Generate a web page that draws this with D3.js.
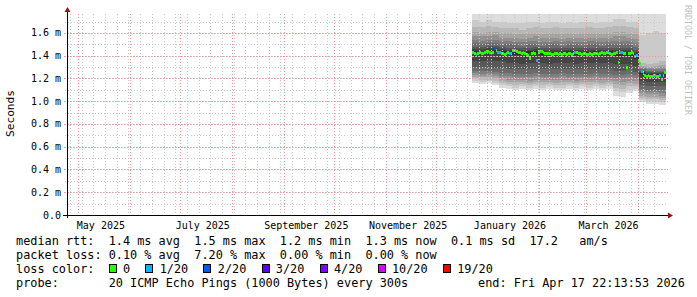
<!DOCTYPE html>
<html>
<head>
<meta charset="utf-8">
<script src="https://cdn.jsdelivr.net/npm/d3@7"></script>
<style>
  body { margin: 0; background: #fff; }
  svg { display: block; }
  text { font-family: "DejaVu Sans Mono", monospace; white-space: pre; }
</style>
</head>
<body>
<div id="chart"></div>
<script>
// time window of the graph
const timeStart = "2025-04-24T05:00:00Z";
const timeEnd = "2026-04-17T22:13:53Z";

// x labels (every second month)
const xLabelDates = ["2025-05-01", "2025-07-01", "2025-09-01", "2025-11-01", "2026-01-01", "2026-03-01"];
const xLabels = ["May 2025", "July 2025", "September 2025", "November 2025", "January 2026", "March 2026"];

// y ticks (ms)
const yTicks = [0, 0.2, 0.4, 0.6, 0.8, 1.0, 1.2, 1.4, 1.6];
const yTickLabels = ["0.0", "0.2 m", "0.4 m", "0.6 m", "0.8 m", "1.0 m", "1.2 m", "1.4 m", "1.6 m"];

// median rtt per day, starting 2025-12-23 (ms)
const dataStart = "2025-12-23T00:00:00Z";
const median = [
  1.43, 1.42, 1.41, 1.42, 1.43, 1.42, 1.42, 1.43, 1.44,
  1.44, 1.43, 1.42, 1.43, 1.46, 1.45, 1.43, 1.43, 1.42,
  1.42, 1.41, 1.42, 1.43, 1.42, 1.42, 1.45, 1.45, 1.44,
  1.43, 1.43, 1.42, 1.43, 1.42, 1.41, 1.40, 1.38, 1.42,
  1.43, 1.42, 1.36, 1.43, 1.44, 1.44, 1.43, 1.42, 1.42,
  1.42, 1.42, 1.41, 1.41, 1.42, 1.42, 1.41, 1.42, 1.41,
  1.42, 1.42, 1.41, 1.42, 1.42, 1.41, 1.42, 1.43, 1.43,
  1.42, 1.42, 1.41, 1.42, 1.42, 1.41, 1.41, 1.42, 1.41,
  1.42, 1.42, 1.42, 1.41, 1.42, 1.43, 1.42, 1.42, 1.43,
  1.43, 1.42, 1.41, 1.42, 1.42, 1.43, 1.345, 1.43, 1.43,
  1.42, 1.42, 1.295, 1.42, 1.42, 1.43, 1.42, 1.39, 1.40,
  1.36, 1.335, 1.26, 1.25, 1.23, 1.22, 1.23, 1.22, 1.22,
  1.23, 1.23, 1.22, 1.22, 1.23, 1.19, 1.23, 1.25
];
// lost pings (of 20) per day
const loss = [
  0, 0, 1, 0, 0, 0, 0, 0, 0,
  0, 0, 0, 0, 2, 0, 1, 1, 0,
  0, 0, 0, 0, 1, 0, 0, 0, 0,
  0, 0, 0, 0, 0, 0, 0, 0, 0,
  0, 0, 1, 0, 0, 0, 0, 0, 0,
  0, 0, 0, 0, 0, 0, 0, 0, 0,
  0, 0, 0, 0, 0, 0, 0, 1, 0,
  0, 0, 0, 0, 0, 0, 0, 0, 0,
  0, 0, 0, 0, 0, 0, 0, 0, 0,
  1, 0, 0, 0, 0, 0, 0, 1, 1,
  0, 0, 0, 0, 0, 0, 0, 1, 1,
  0, 0, 1, 1, 0, 0, 0, 0, 0,
  0, 1, 0, 0, 1, 0, 0, 0
];

// smoke: the 20 sorted pings (ms), one row per 4 days from 2025-12-23
const smokeDays = 4;
const smoke = [
  [1.16,1.18,1.20,1.21,1.23,1.25,1.27,1.30,1.35,1.42,1.44,1.46,1.48,1.51,1.54,1.57,1.61,1.65,1.71,1.80],
  [1.15,1.17,1.19,1.21,1.22,1.24,1.27,1.30,1.35,1.42,1.44,1.46,1.48,1.50,1.53,1.57,1.60,1.65,1.70,1.80],
  [1.16,1.18,1.19,1.21,1.23,1.25,1.27,1.30,1.36,1.43,1.45,1.47,1.49,1.51,1.54,1.57,1.61,1.66,1.71,1.80],
  [1.14,1.16,1.18,1.20,1.22,1.24,1.26,1.29,1.35,1.43,1.45,1.47,1.49,1.51,1.54,1.58,1.61,1.65,1.70,1.80],
  [1.12,1.14,1.16,1.18,1.20,1.22,1.25,1.29,1.35,1.42,1.44,1.46,1.48,1.50,1.53,1.56,1.60,1.64,1.70,1.80],
  [1.11,1.13,1.15,1.17,1.19,1.22,1.25,1.28,1.34,1.42,1.44,1.45,1.47,1.50,1.53,1.56,1.60,1.64,1.69,1.80],
  [1.10,1.12,1.14,1.17,1.19,1.21,1.24,1.28,1.34,1.41,1.43,1.45,1.47,1.50,1.52,1.56,1.59,1.64,1.69,1.80],
  [1.11,1.13,1.15,1.17,1.19,1.21,1.24,1.28,1.33,1.41,1.43,1.45,1.47,1.49,1.52,1.55,1.59,1.63,1.69,1.80],
  [1.10,1.12,1.14,1.16,1.18,1.21,1.24,1.28,1.34,1.42,1.44,1.45,1.47,1.50,1.53,1.56,1.60,1.64,1.70,1.80],
  [1.11,1.13,1.15,1.17,1.19,1.22,1.25,1.28,1.34,1.42,1.44,1.46,1.48,1.50,1.53,1.57,1.60,1.65,1.70,1.80],
  [1.10,1.12,1.14,1.17,1.19,1.21,1.24,1.28,1.34,1.41,1.43,1.45,1.47,1.49,1.52,1.56,1.59,1.64,1.69,1.80],
  [1.11,1.13,1.15,1.17,1.19,1.21,1.24,1.28,1.33,1.41,1.43,1.45,1.47,1.50,1.52,1.56,1.60,1.64,1.70,1.80],
  [1.10,1.12,1.14,1.16,1.19,1.21,1.24,1.28,1.34,1.41,1.43,1.45,1.47,1.50,1.53,1.56,1.60,1.65,1.70,1.80],
  [1.10,1.12,1.14,1.17,1.19,1.22,1.25,1.28,1.34,1.41,1.43,1.45,1.47,1.49,1.52,1.55,1.59,1.64,1.69,1.80],
  [1.11,1.13,1.15,1.17,1.19,1.21,1.24,1.28,1.34,1.42,1.44,1.45,1.47,1.50,1.53,1.56,1.60,1.64,1.70,1.80],
  [1.10,1.12,1.14,1.16,1.18,1.21,1.24,1.28,1.33,1.41,1.43,1.45,1.47,1.50,1.52,1.56,1.59,1.64,1.69,1.80],
  [1.11,1.13,1.15,1.17,1.19,1.21,1.24,1.28,1.34,1.41,1.43,1.45,1.47,1.49,1.52,1.56,1.60,1.64,1.70,1.80],
  [1.10,1.12,1.14,1.17,1.19,1.21,1.24,1.28,1.34,1.41,1.43,1.45,1.47,1.50,1.53,1.56,1.60,1.65,1.70,1.80],
  [1.11,1.13,1.15,1.17,1.19,1.22,1.25,1.28,1.34,1.42,1.44,1.45,1.47,1.50,1.53,1.56,1.60,1.64,1.69,1.80],
  [1.10,1.12,1.14,1.16,1.19,1.21,1.24,1.28,1.34,1.41,1.43,1.45,1.47,1.49,1.52,1.56,1.59,1.64,1.70,1.80],
  [1.11,1.13,1.15,1.17,1.19,1.21,1.24,1.28,1.34,1.42,1.44,1.45,1.47,1.50,1.53,1.56,1.60,1.65,1.70,1.80],
  [1.05,1.09,1.12,1.15,1.18,1.20,1.23,1.27,1.33,1.40,1.43,1.45,1.47,1.50,1.53,1.57,1.61,1.66,1.72,1.80],
  [1.04,1.08,1.11,1.14,1.17,1.20,1.23,1.27,1.33,1.40,1.43,1.45,1.47,1.50,1.53,1.57,1.61,1.66,1.72,1.80],
  [1.07,1.10,1.13,1.16,1.18,1.21,1.24,1.28,1.33,1.40,1.43,1.45,1.47,1.50,1.53,1.56,1.60,1.65,1.70,1.80],
  [1.09,1.11,1.13,1.15,1.18,1.20,1.23,1.26,1.31,1.37,1.40,1.43,1.45,1.48,1.51,1.55,1.59,1.64,1.70,1.80],
  [0.99,1.01,1.03,1.05,1.07,1.09,1.11,1.14,1.18,1.23,1.25,1.26,1.27,1.28,1.29,1.30,1.31,1.34,1.58,1.80],
  [0.98,1.00,1.02,1.04,1.06,1.08,1.10,1.13,1.17,1.22,1.24,1.25,1.26,1.27,1.28,1.29,1.30,1.33,1.60,1.80],
  [0.98,1.00,1.02,1.04,1.06,1.08,1.10,1.13,1.17,1.22,1.24,1.25,1.26,1.27,1.28,1.29,1.31,1.34,1.62,1.80],
  [0.97,0.99,1.01,1.03,1.05,1.07,1.10,1.13,1.17,1.22,1.24,1.25,1.26,1.27,1.28,1.30,1.32,1.35,1.60,1.80]
];

// legend
const lossLabels = ["0", "1/20", "2/20", "3/20", "4/20", "10/20", "19/20"];
const lossColors = ["#26ff00", "#00b8ff", "#0059ff", "#5e00ff", "#7e00ff", "#dd00ff", "#ff0000"];
const rttLine = "median rtt:  1.4 ms avg  1.5 ms max  1.2 ms min  1.3 ms now  0.1 ms sd  17.2   am/s";
const lossLine = "packet loss: 0.10 % avg  7.20 % max  0.00 % min  0.00 % now";
const probeLine = "probe:       20 ICMP Echo Pings (1000 Bytes) every 300s";
const endLine = "end: Fri Apr 17 22:13:53 2026";

const W = 697, H = 297;
const pLeft = 67, pRight = 666, pTop = 14, pBottom = 215;
const cw = 7.134; // legend char width

const svg = d3.select("#chart").append("svg")
    .attr("width", W)
    .attr("height", H);

svg.append("rect").attr("width", W).attr("height", H).attr("fill", "#fff");

const x = d3.scaleUtc()
    .domain([new Date(timeStart), new Date(timeEnd)])
    .range([pLeft, pRight]);

const y = d3.scaleLinear()
    .domain([0, 1.767])
    .range([pBottom, pTop]);

svg.append("clipPath").attr("id", "plot")
    .append("rect")
    .attr("x", pLeft).attr("y", pTop)
    .attr("width", pRight - pLeft).attr("height", pBottom - pTop);

const plot = svg.append("g").attr("clip-path", "url(#plot)");

const day0 = new Date(dataStart);

// smoke, outer bands first, darker towards the middle
smoke.forEach((row, k) => {
    const t0 = d3.utcDay.offset(day0, k * smokeDays);
    const t1 = d3.utcDay.offset(day0, (k + 1) * smokeDays);
    for (let b = 0; b < 10; b++) {
        const c = Math.floor(190 / 10 * (10 - (b + 1))) + 50;
        plot.append("rect")
            .attr("x", x(t0))
            .attr("width", x(t1) - x(t0))
            .attr("y", y(row[19 - b]))
            .attr("height", y(row[b]) - y(row[19 - b]))
            .attr("fill", d3.rgb(c, c, c))
            .attr("shape-rendering", "crispEdges");
    }
});

// median, coloured by loss
const sw = 0.0132;
median.forEach((m, i) => {
    const t0 = d3.utcDay.offset(day0, i);
    const t1 = d3.utcDay.offset(day0, i + 1);
    plot.append("rect")
        .attr("x", x(t0))
        .attr("width", x(t1) - x(t0))
        .attr("y", y(m + sw))
        .attr("height", y(m - sw) - y(m + sw))
        .attr("fill", lossColors[loss[i]])
        .attr("shape-rendering", "crispEdges");
});

// grid (drawn over the data, like rrdtool)
const grid = svg.append("g").attr("shape-rendering", "crispEdges");
const weeks = d3.utcSaturday.range(x.domain()[0], x.domain()[1]);
const months = d3.utcMonth.range(x.domain()[0], x.domain()[1]);
const minorY = d3.range(1, 18).map(d => d / 10);

grid.selectAll(".wk").data(weeks).join("line")
    .attr("x1", d => Math.round(x(d)) + 0.5).attr("x2", d => Math.round(x(d)) + 0.5)
    .attr("y1", pTop).attr("y2", pBottom + 2)
    .attr("stroke", "#c8c8c8").attr("stroke-dasharray", "1,2");

grid.selectAll(".my").data(minorY).join("line")
    .attr("x1", pLeft - 2).attr("x2", pRight + 2)
    .attr("y1", d => Math.round(y(d)) + 0.5).attr("y2", d => Math.round(y(d)) + 0.5)
    .attr("stroke", "#c8c8c8").attr("stroke-dasharray", "1,2");

grid.selectAll(".mo").data(months).join("line")
    .attr("x1", d => Math.round(x(d)) + 0.5).attr("x2", d => Math.round(x(d)) + 0.5)
    .attr("y1", pTop).attr("y2", pBottom + 2)
    .attr("stroke", "#f09898").attr("stroke-dasharray", "1,2");

grid.selectAll(".my2").data(yTicks.slice(1)).join("line")
    .attr("x1", pLeft - 3).attr("x2", pRight + 2)
    .attr("y1", d => Math.round(y(d)) + 0.5).attr("y2", d => Math.round(y(d)) + 0.5)
    .attr("stroke", "#f09898").attr("stroke-dasharray", "1,2");

// axes
const axis = svg.append("g").attr("shape-rendering", "crispEdges");
axis.append("line")
    .attr("x1", pLeft - 4).attr("x2", pRight + 3)
    .attr("y1", pBottom + 0.5).attr("y2", pBottom + 0.5)
    .attr("stroke", "#000");
axis.append("line")
    .attr("x1", pLeft + 0.5).attr("x2", pLeft + 0.5)
    .attr("y1", pBottom + 3).attr("y2", pTop - 2)
    .attr("stroke", "#000");
svg.append("path")
    .attr("d", `M${pRight + 2},${pBottom - 2.5}L${pRight + 7},${pBottom + 0.5}L${pRight + 2},${pBottom + 3.5}Z`)
    .attr("fill", "#a01010");
svg.append("path")
    .attr("d", `M${pLeft - 2.5},${pTop - 2}L${pLeft + 0.5},${pTop - 7}L${pLeft + 3.5},${pTop - 2}Z`)
    .attr("fill", "#a01010");

// y labels
svg.selectAll(".yl").data(yTicks).join("text")
    .attr("x", pLeft - 6)
    .attr("y", d => y(d) + 3.5)
    .attr("text-anchor", "end")
    .attr("font-size", 10)
    .attr("fill", "#000")
    .text((d, i) => yTickLabels[i]);

// x labels
svg.selectAll(".xl").data(xLabelDates).join("text")
    .attr("x", d => x(d3.utcHour.offset(new Date(d + "T00:00:00Z"), 13.5 * 24)))
    .attr("y", 228.5)
    .attr("text-anchor", "middle")
    .attr("font-size", 10)
    .attr("fill", "#000")
    .text((d, i) => xLabels[i]);

svg.append("text")
    .attr("transform", "translate(14,113.5) rotate(-90)")
    .attr("text-anchor", "middle")
    .attr("font-size", 11.2)
    .attr("fill", "#000")
    .text("Seconds");

svg.append("text")
    .attr("transform", "translate(684.5,5) rotate(90)")
    .attr("font-size", 8.3)
    .attr("fill", "#c0c0c0")
    .text("RRDTOOL / TOBI OETIKER");

// legend
const leg = svg.append("g")
    .attr("font-size", 11.85)
    .attr("fill", "#000");

const legText = (tx, ty, s) => leg.append("text")
    .attr("x", tx).attr("y", ty)
    .attr("xml:space", "preserve")
    .style("white-space", "pre")
    .text(s);

legText(16, 245.3, rttLine);
legText(16, 259.2, lossLine);
legText(16, 273.3, "loss color:");
legText(16, 287.3, probeLine);
legText(478, 287.3, endLine);

let cx = 16 + 13 * cw;
lossLabels.forEach((lab, i) => {
    leg.append("rect")
        .attr("x", Math.round(cx) + 0.5).attr("y", 264.5)
        .attr("width", 7).attr("height", 8)
        .attr("fill", lossColors[i])
        .attr("stroke", "#000");
    legText(cx + 2 * cw, 273.3, lab);
    cx += (lab.length + 4) * cw + 1;
});
</script>
</body>
</html>
